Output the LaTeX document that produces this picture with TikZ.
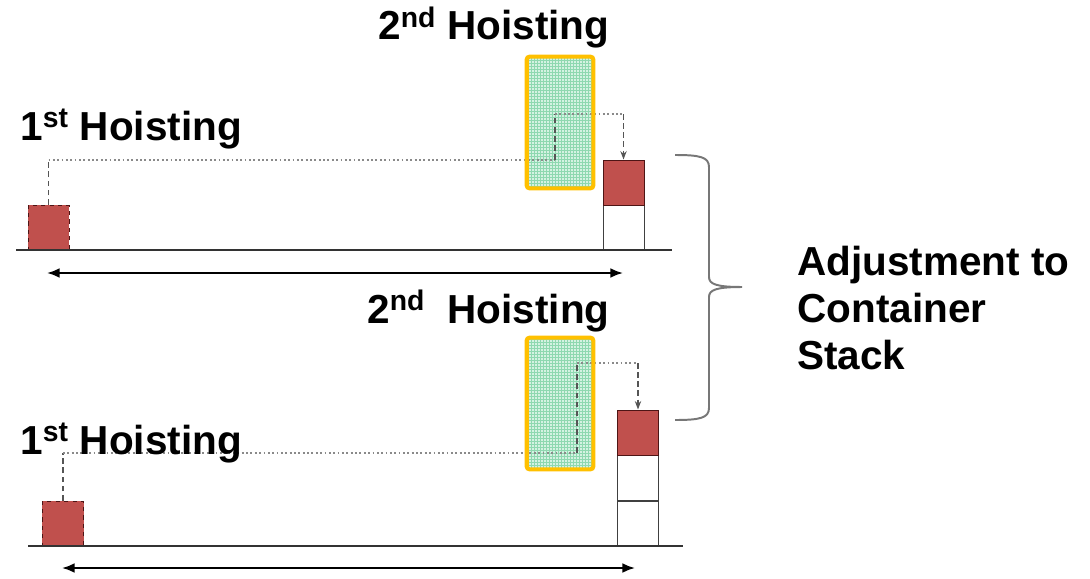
\documentclass[tikz,border=0pt]{standalone}
\usepackage{fontspec}
\setmainfont{Liberation Sans}
\usetikzlibrary{arrows.meta}
\definecolor{cratered}{HTML}{C0504D}
\definecolor{cratedark}{HTML}{4D1515}
\definecolor{framegold}{HTML}{FFC000}
\definecolor{mintfill}{HTML}{D4F2E2}
\definecolor{mintline}{HTML}{8ED8B0}
\definecolor{trailgray}{HTML}{8A8A8A}
\definecolor{dropgray}{HTML}{555555}
\definecolor{bracegray}{HTML}{777777}

\begin{document}
\begin{tikzpicture}[
  x=0.025cm, y=-0.025cm,
  font=\fontsize{28.8}{33.7}\selectfont\bfseries,
  crate/.style={draw=cratedark, fill=cratered, line width=0.7pt, minimum width=1.025cm, minimum height=1.125cm, inner sep=0pt},
  slot/.style={draw=black!75, fill=white, line width=0.7pt, minimum width=1.025cm, minimum height=1.125cm, inner sep=0pt},
  hoist/.style={fill=mintfill, minimum width=1.65cm, minimum height=3.275cm, inner sep=0pt},
  hoistframe/.style={draw=framegold, line width=2.9pt, rounded corners=2pt},
  gridln/.style={draw=mintline, line width=0.5pt},
  trail/.style={draw=trailgray, line width=1.4pt, dash pattern=on 1.3pt off 1.8pt},
  drop/.style={draw=dropgray, line width=0.9pt, dash pattern=on 4pt off 2.5pt},
  ground/.style={draw=black!80, line width=1.4pt},
  span/.style={draw=black, line width=1.4pt, {Latex[length=9pt,width=7pt]}-{Latex[length=9pt,width=7pt]}},
  label/.style={anchor=base west, inner sep=0pt}
]
\useasboundingbox (0,0) rectangle (1090,578);

% upper run
\node[crate, dashed] (srcA) at (48.5,227.5) {};
\node[slot] (slotA) at (623.5,227.5) {};
\node[crate] (tgtA) at (623.5,182.5) {};
\node[hoist] (hoistA) at (560,122.5) {};
\begin{scope}
  \clip (hoistA.south west) rectangle (hoistA.north east);
  \draw[gridln] (hoistA.south west) grid[step=0.075cm] (hoistA.north east);
\end{scope}
\coordinate (kneeA) at (555,160);
\coordinate (liftA) at (555,114);
\draw[drop] (srcA.north) -- (srcA.north |- kneeA);
\draw[trail] (srcA.north |- kneeA) -- (kneeA);
\draw[drop] (kneeA) -- (liftA);
\draw[trail] (liftA) -- (liftA -| tgtA.north);
\draw[drop, -{Stealth[length=6pt,width=4.5pt]}] (liftA -| tgtA.north) -- (tgtA.north);
\draw[hoistframe] (hoistA.south west) rectangle (hoistA.north east);
\coordinate (groundA0) at (16,250);
\coordinate (groundA1) at (672,250);
\draw[ground] (groundA0) -- (groundA1);
\coordinate (spanA0) at (47,273);
\coordinate (spanA1) at (623,273);
\draw[span] (spanA0) -- (spanA1);
\node[label] (firstA) at (20,140) {1\textsuperscript{st} Hoisting};
\node[label] (secondA) at (378,40) {2\textsuperscript{nd} Hoisting};

% lower run
\node[crate, dashed] (srcB) at (63,523.5) {};
\node[slot] (slotB2) at (638,523.5) {};
\node[slot] (slotB1) at (638,478) {};
\node[crate] (tgtB) at (638,432.5) {};
\node[hoist] (hoistB) at (560,403.5) {};
\begin{scope}
  \clip (hoistB.south west) rectangle (hoistB.north east);
  \draw[gridln] (hoistB.south west) grid[step=0.075cm] (hoistB.north east);
\end{scope}
\coordinate (kneeB) at (577,453);
\coordinate (liftB) at (577,363);
\draw[drop] (srcB.north) -- (srcB.north |- kneeB);
\draw[trail] (srcB.north |- kneeB) -- (kneeB);
\draw[drop] (kneeB) -- (liftB);
\draw[trail] (liftB) -- (liftB -| tgtB.north);
\draw[drop, -{Stealth[length=6pt,width=4.5pt]}] (liftB -| tgtB.north) -- (tgtB.north);
\draw[hoistframe] (hoistB.south west) rectangle (hoistB.north east);
\coordinate (groundB0) at (28,546);
\coordinate (groundB1) at (683,546);
\draw[ground] (groundB0) -- (groundB1);
\coordinate (spanB0) at (62,568);
\coordinate (spanB1) at (635,568);
\draw[span] (spanB0) -- (spanB1);
\node[label] (firstB) at (20,454) {1\textsuperscript{st} Hoisting};
\node[label] (secondB) at (367,323) {2\textsuperscript{nd}\ \ Hoisting};

% brace and note
\draw[draw=bracegray, line width=1.4pt]
  (675,155) .. controls (700,155) and (709,157) .. (709,167) -- (709,277)
  .. controls (709,284) and (716,287) .. (742,287)
  .. controls (716,287) and (709,290) .. (709,297) -- (709,408)
  .. controls (709,418) and (700,420) .. (675,420);
\node[label] (note) at (797,275) {\begin{tabular}[t]{@{}l@{}}Adjustment to\\Container\\Stack\end{tabular}};
\end{tikzpicture}
\end{document}
